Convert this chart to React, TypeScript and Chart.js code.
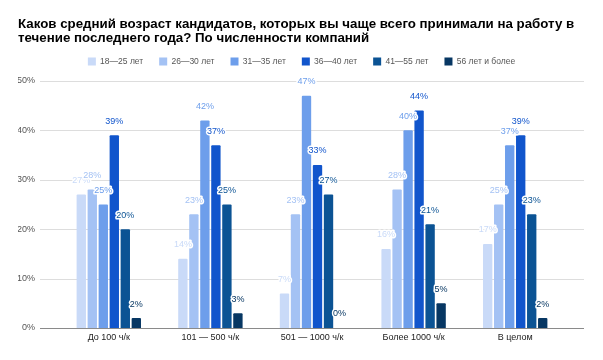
import React, { useEffect, useRef } from "react";
import { Chart, registerables } from "chart.js";

Chart.register(...registerables);

const titleLines = [
  "Каков средний возраст кандидатов, которых вы чаще всего принимали на работу в",
  "течение последнего года? По численности компаний",
];
const categories = ["До 100 ч/к", "101 — 500 ч/к", "501 — 1000 ч/к", "Более 1000 ч/к", "В целом"];
const seriesNames = ["18—25 лет", "26—30 лет", "31—35 лет", "36—40 лет", "41—55 лет", "56 лет и более"];
const s18_25 = [27, 14, 7, 16, 17];
const s26_30 = [28, 23, 23, 28, 25];
const s31_35 = [25, 42, 47, 40, 37];
const s36_40 = [39, 37, 33, 44, 39];
const s41_55 = [20, 25, 27, 21, 23];
const s56plus = [2, 3, 0, 5, 2];
const yTicks = [0, 10, 20, 30, 40, 50];

const colors = ["#c9daf8", "#a4c2f4", "#6d9eeb", "#1155cc", "#0b5394", "#073763"];
const FONT = '"Liberation Sans", Arial, sans-serif';

const gridPlugin = {
  id: "extGrid",
  beforeDatasetsDraw(chart: any) {
    const { ctx, chartArea, scales } = chart;
    const y = scales.y;
    ctx.save();
    ctx.lineWidth = 1;
    yTicks.forEach((v) => {
      const py = Math.round(y.getPixelForValue(v)) + 0.5;
      ctx.strokeStyle = v === 0 ? "#8a8a8a" : "#dddddd";
      ctx.beginPath();
      ctx.moveTo(chartArea.left - 18, py);
      ctx.lineTo(chartArea.right + 18, py);
      ctx.stroke();
    });
    ctx.restore();
  },
};

const labelPlugin = {
  id: "valLabels",
  afterDatasetsDraw(chart: any) {
    const { ctx } = chart;
    ctx.save();
    ctx.font = `9px ${FONT}`;
    ctx.textAlign = "center";
    ctx.textBaseline = "middle";
    ctx.lineJoin = "round";
    chart.data.datasets.forEach((ds: any, di: number) => {
      const meta = chart.getDatasetMeta(di);
      meta.data.forEach((bar: any, i: number) => {
        const txt = ds.data[i] + "%";
        const x = bar.x;
        const y = bar.y - 14;
        ctx.lineWidth = 3;
        ctx.strokeStyle = "#ffffff";
        ctx.strokeText(txt, x, y);
        ctx.fillStyle = ds.backgroundColor;
        ctx.fillText(txt, x, y);
      });
    });
    ctx.restore();
  },
};

export default function App() {
  const ref = useRef<HTMLCanvasElement>(null);
  useEffect(() => {
    if (!ref.current) return;
    const series = [s18_25, s26_30, s31_35, s36_40, s41_55, s56plus];
    const chart = new Chart(ref.current, {
      type: "bar",
      data: {
        labels: categories,
        datasets: series.map((d, i) => ({
          label: seriesNames[i],
          data: d,
          backgroundColor: colors[i],
          borderWidth: 0,
          borderRadius: 1,
          categoryPercentage: 0.65,
          barPercentage: 0.85,
          yAxisID: "y",
        })),
      },
      options: {
        responsive: false,
        animation: false,
        layout: { padding: { left: 18, right: 18, top: 0, bottom: 0 } },
        plugins: {
          title: {
            display: true,
            text: titleLines,
            align: "start",
            color: "#000000",
            font: { family: FONT, size: 13.3, weight: "bold", lineHeight: 1.0 },
            padding: { top: 18, bottom: -3.4 },
          },
          legend: {
            display: true,
            position: "top",
            align: "center",
            labels: {
              boxWidth: 8,
              boxHeight: 8,
              padding: 16,
              color: "#555555",
              font: { family: FONT, size: 8.5 },
            },
          },
          tooltip: { enabled: false },
        },
        scales: {
          x: {
            grid: { display: false, drawTicks: false },
            border: { display: false },
            ticks: { color: "#222222", font: { family: FONT, size: 9 }, padding: 4, maxRotation: 0, autoSkip: false },
            afterFit(s: any) {
              s.height = 32;
            },
          },
          y: {
            min: 0,
            max: 51.05,
            grid: { display: false, drawTicks: false },
            border: { display: false },
            ticks: {
              color: "#555555",
              font: { family: FONT, size: 9 },
              padding: 23,
              callback: (v: any) => v + "%",
            },
            afterBuildTicks(s: any) {
              s.ticks = yTicks.map((v) => ({ value: v }));
            },
            afterFit(s: any) {
              s.width = 40;
            },
          },
          y2: {
            type: "linear",
            position: "right",
            display: true,
            grid: { display: false, drawTicks: false },
            border: { display: false },
            ticks: { display: false },
            afterFit(s: any) {
              s.width = 19;
            },
          },
        },
      },
      plugins: [gridPlugin, labelPlugin],
    });
    return () => chart.destroy();
  }, []);
  return (
    <div style={{ position: "absolute", left: 0, top: 0, width: 603, height: 360, background: "#fff" }}>
      <canvas ref={ref} width={603} height={360} style={{ display: "block" }} />
    </div>
  );
}
